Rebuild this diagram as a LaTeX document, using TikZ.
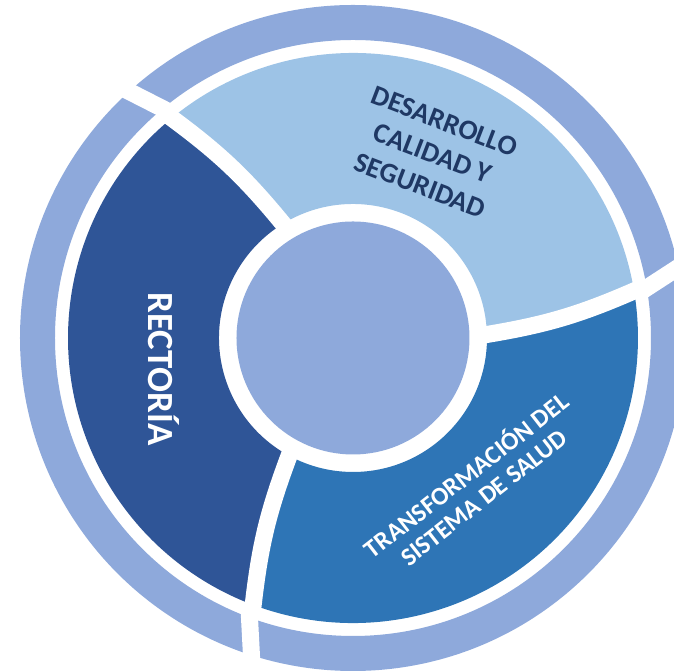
\documentclass[tikz,border=0pt]{standalone}
\usepackage{fontspec}
\setmainfont{Carlito}
\usetikzlibrary{calc}
\definecolor{ringblue}{HTML}{8EA9DB}
\definecolor{paleblue}{HTML}{9DC3E6}
\definecolor{darkblue}{HTML}{2F5597}
\definecolor{midblue}{HTML}{2E75B6}
\definecolor{navytext}{HTML}{1F3864}
% one piece of the middle ring: colour, start angle (inner, outer), end angle (inner, outer)
\newcommand{\segment}[5]{\fill[#1] (#2:134) to[bend right=7] (#3:285) arc[start angle=#3, end angle=#5, radius=285] to[bend left=7] (#4:134) arc[start angle=#4, end angle=#2, radius=134] -- cycle;}

\begin{document}
\begin{tikzpicture}[
      x=0.02cm, y=0.02cm,
      gap/.style={draw=white, line width=0.34cm},
      title/.style={align=center, inner sep=0pt}
      ]
      \clip (-353,-333) rectangle (321,338);

      % outer ring, cut in three places
      \fill[ringblue, even odd rule] (0,0) circle[radius=333] (0,0) circle[radius=298];
      \foreach \p in {11,131,251}
        \draw[gap] ($(\p:315)+({\p+22}:-30)$) -- ($(\p:315)+({\p+22}:30)$);

      % middle ring: the three fields
      \segment{paleblue}{1.5}{9.5}{121.5}{129.5}
      \segment{darkblue}{121.5}{129.5}{241.5}{249.5}
      \segment{midblue}{241.5}{249.5}{361.5}{369.5}
      \foreach \a in {1.5,121.5,241.5}
        \draw[gap, line cap=rect] (\a:134) to[bend right=7] ({\a+8}:285);

      % centre disc
      \fill[ringblue] (0,0) circle[radius=116.5];

      % the labels
      \node[title, text=navytext, rotate=-21, font=\bfseries\fontsize{16}{19.5}\selectfont] (desarrollo) at (79.5,184.5) {DESARROLLO\\CALIDAD Y\\SEGURIDAD};
      \node[title, text=white, rotate=-90, anchor=base, font=\bfseries\fontsize{21}{25}\selectfont] (rectoria) at (-204,-31) {RECTORÍA};
      \node[title, text=white, rotate=38, font=\bfseries\fontsize{14.5}{16}\selectfont] (transformacion) at (121,-147) {TRANSFORMACIÓN DEL\\SISTEMA DE SALUD};
\end{tikzpicture}
\end{document}
